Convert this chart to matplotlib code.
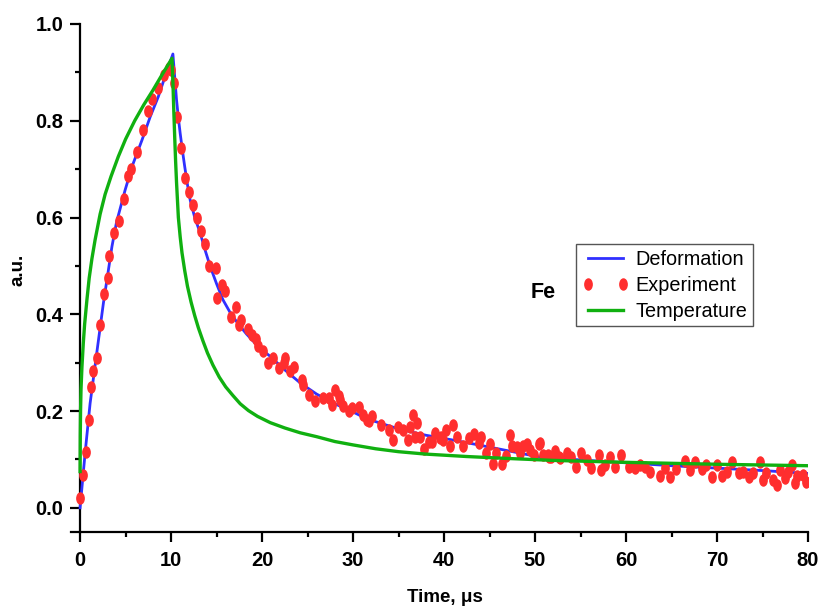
import numpy as np
import matplotlib
matplotlib.use("Agg")
import matplotlib.pyplot as plt
from matplotlib.path import Path
from matplotlib.ticker import MultipleLocator, FormatStrFormatter

AZUL = "#3030ff"
VERDE = "#10b010"
VERMELHO = "#ff2e2e"

plt.rcParams.update({
    "font.family": ["Liberation Sans", "DejaVu Sans"],
})

# Deformation (blue curve)
def_t = [0, 0.3, 0.55, 1.1, 1.83, 2.56, 3.1, 3.5, 4.0, 4.95, 5.8, 6.8, 7.7, 8.6, 9.4,
         10.2, 10.4, 10.6, 10.8, 11.0, 11.25, 11.5, 11.8, 12.1, 12.6, 13.2, 13.7,
         14.3, 15.0, 15.7, 16.6, 17.6, 18.3, 19.0, 19.9, 20.9, 22.5, 24.2, 26.0, 28.0,
         30.0, 31.5, 33.5, 35.2, 38.0, 40.7, 43.5, 46.2, 50.5, 55.0, 60.0, 65.0, 70.0,
         75.0, 80.0]
def_y = [0.0, 0.062, 0.113, 0.216, 0.32, 0.423, 0.49, 0.54, 0.59, 0.657, 0.71, 0.76,
         0.808, 0.85, 0.895, 0.938, 0.89, 0.843, 0.806, 0.774, 0.738, 0.705, 0.668,
         0.636, 0.6, 0.568, 0.535, 0.499, 0.463, 0.43, 0.4, 0.375, 0.359, 0.345,
         0.328, 0.313, 0.285, 0.258, 0.235, 0.215, 0.198, 0.184, 0.172, 0.162, 0.15,
         0.141, 0.131, 0.121, 0.105, 0.099, 0.093, 0.087, 0.082, 0.077, 0.071]

# Temperature (green curve)
temp_t = [0, 0.02, 0.05, 0.1, 0.2, 0.35, 0.5, 0.75, 1.0, 1.3, 1.65, 2.2, 2.75, 3.4,
          4.2, 5.0, 6.0, 7.0, 8.0, 9.0, 10.1, 10.2, 10.3, 10.4, 10.5, 10.6, 10.8,
          11.0, 11.2, 11.5, 11.8, 12.2, 12.6, 13.0, 13.5, 14.0, 14.6, 15.3, 16.0,
          16.8, 17.6, 18.5, 19.5, 20.9, 22.5, 24.2, 26.0, 28.0, 30.0, 32.5, 35.0,
          38.0, 42.5, 47.0, 52.0, 60.0, 70.0, 80.0]
temp_y = [0.075, 0.15, 0.2, 0.245, 0.29, 0.34, 0.38, 0.43, 0.475, 0.515, 0.554,
          0.607, 0.648, 0.685, 0.726, 0.762, 0.8, 0.833, 0.863, 0.895, 0.929, 0.88,
          0.82, 0.765, 0.715, 0.672, 0.6, 0.56, 0.527, 0.49, 0.458, 0.425, 0.397,
          0.372, 0.345, 0.32, 0.295, 0.27, 0.25, 0.232, 0.215, 0.201, 0.189, 0.176,
          0.165, 0.155, 0.147, 0.137, 0.13, 0.122, 0.116, 0.111, 0.106, 0.102, 0.098,
          0.094, 0.09, 0.087]

# Experiment (red dots)
exp_t = [0.0, 0.33, 0.62, 1.02, 1.17, 1.46, 1.83, 2.2, 2.64, 3.08, 3.2, 3.7, 4.25,
         4.84, 5.3, 5.6, 6.26, 6.9, 7.44, 7.95, 8.6, 9.2, 9.8, 10.0, 10.3, 10.6, 11.1,
         11.5, 12.0, 12.4, 12.8, 13.3, 13.7, 14.2, 14.9, 15.6, 15.9, 15.1, 17.1, 16.6,
         17.7, 17.5, 18.5, 18.9, 19.3, 19.6, 20.1, 20.7, 21.2, 21.9, 22.5, 22.4, 23.1,
         23.5, 24.4, 24.5, 25.2, 25.8, 26.7, 27.4, 27.7, 28.0, 28.4, 28.6, 28.9, 29.6,
         29.9, 30.7, 31.1, 31.5, 31.8, 32.1, 33.1, 33.9, 34.4, 34.9, 35.5, 36.0, 36.3,
         36.6, 37.0, 36.8, 37.4, 37.8, 38.3, 38.7, 39.0, 39.5, 39.7, 39.9, 40.2, 40.6,
         41.0, 41.4, 42.1, 42.7, 43.3, 43.8, 44.1, 44.6, 45.1, 45.4, 45.7, 46.4, 46.8,
         47.3, 47.5, 48.0, 48.4, 48.7, 49.1, 49.5, 49.9, 50.4, 50.9, 51.4, 51.7, 52.2,
         52.6, 50.5, 51.5, 52.7, 53.5, 54.0, 54.5, 55.1, 55.7, 56.2, 57.0, 57.3, 57.7,
         58.2, 58.8, 59.5, 60.3, 61.0, 61.5, 62.1, 62.6, 63.7, 64.3, 64.8, 65.5, 66.5,
         67.0, 67.6, 68.3, 68.8, 69.4, 70.0, 70.5, 71.1, 71.7, 72.4, 72.9, 73.5, 74.0,
         74.7, 75.0, 75.4, 76.2, 76.6, 76.9, 77.5, 77.8, 78.2, 78.6, 78.8, 79.5, 79.8]
exp_y = [0.021, 0.067, 0.116, 0.182, 0.25, 0.282, 0.31, 0.377, 0.442, 0.476, 0.52,
         0.567, 0.593, 0.638, 0.685, 0.70, 0.736, 0.78, 0.82, 0.846, 0.867, 0.895, 0.91,
         0.905, 0.879, 0.808, 0.744, 0.681, 0.653, 0.625, 0.598, 0.572, 0.545, 0.50,
         0.496, 0.46, 0.448, 0.434, 0.416, 0.395, 0.389, 0.377, 0.369, 0.358, 0.349,
         0.335, 0.325, 0.30, 0.31, 0.289, 0.31, 0.30, 0.282, 0.292, 0.264, 0.254, 0.233,
         0.221, 0.227, 0.227, 0.213, 0.244, 0.231, 0.223, 0.211, 0.20, 0.206, 0.209,
         0.192, 0.182, 0.18, 0.19, 0.171, 0.16, 0.14, 0.166, 0.16, 0.14, 0.168, 0.191,
         0.175, 0.147, 0.147, 0.121, 0.137, 0.137, 0.154, 0.144, 0.147, 0.14, 0.16,
         0.128, 0.171, 0.147, 0.128, 0.144, 0.152, 0.134, 0.146, 0.113, 0.132, 0.091,
         0.114, 0.091, 0.107, 0.151, 0.128, 0.125, 0.113, 0.127, 0.132, 0.12, 0.11,
         0.132, 0.11, 0.11, 0.106, 0.118, 0.105, 0.134, 0.106, 0.103, 0.113, 0.106,
         0.085, 0.113, 0.099, 0.082, 0.11, 0.079, 0.089, 0.106, 0.085, 0.11, 0.085,
         0.082, 0.089, 0.085, 0.073, 0.065, 0.082, 0.063, 0.08, 0.096, 0.079, 0.094,
         0.08, 0.089, 0.063, 0.089, 0.065, 0.075, 0.094, 0.072, 0.075, 0.063, 0.072,
         0.094, 0.058, 0.072, 0.058, 0.048, 0.079, 0.061, 0.073, 0.089, 0.051, 0.065,
         0.068, 0.054]

# marcador oval (um pouco mais alto que largo)
circ = Path.unit_circle()
oval = Path(circ.vertices * np.array([0.7, 1.0]), circ.codes)

fig = plt.figure(figsize=(8.21, 6.08), dpi=100)
ax = fig.add_axes([71 / 821, 76 / 608, (808 - 71) / 821, (584 - 76) / 608])

ax.plot(def_t, def_y, color=AZUL, lw=2, label="Deformation", zorder=3)
ax.plot(exp_t, exp_y, linestyle="none", marker=oval, markersize=9,
        color=VERMELHO, mec="none", label="Experiment", zorder=4)
ax.plot(temp_t, temp_y, color=VERDE, lw=2.4, label="Temperature", zorder=5)

ax.set_xlim(-1, 80)
ax.set_ylim(-0.05, 1.0)
ax.spines["top"].set_visible(False)
ax.spines["right"].set_visible(False)
ax.spines["left"].set_position(("data", 0))
for s in ["left", "bottom"]:
    ax.spines[s].set_linewidth(1.6)

ax.xaxis.set_major_locator(MultipleLocator(10))
ax.xaxis.set_minor_locator(MultipleLocator(5))
ax.yaxis.set_major_locator(MultipleLocator(0.2))
ax.yaxis.set_minor_locator(MultipleLocator(0.1))
ax.yaxis.set_major_formatter(FormatStrFormatter("%.1f"))
ax.tick_params(which="major", direction="out", length=7, width=1.6, labelsize=14.5)
ax.tick_params(axis="x", which="major", pad=7)
ax.tick_params(axis="y", which="major", pad=5)
ax.tick_params(which="minor", direction="out", length=3.8, width=1.6)
for lab in ax.get_xticklabels() + ax.get_yticklabels():
    lab.set_fontweight("bold")

fig.text(18 / 821, 1 - 270 / 608, "a.u.", rotation=90, ha="center", va="center",
         fontsize=13.5, fontweight="bold")
fig.text(445 / 821, 1 - 598 / 608, "Time, \u03bcs", ha="center", va="center",
         fontsize=13.5, fontweight="bold")

ax.text(50.9, 0.446, "Fe", ha="center", va="center", fontsize=15.5, fontweight="bold")

leg = ax.legend(loc="upper left", bbox_to_anchor=(576 / 821, 1 - 244 / 608),
                bbox_transform=fig.transFigure, borderaxespad=0, fontsize=14.3,
                fancybox=False, framealpha=1, edgecolor="#555555", numpoints=2,
                handlelength=2.4, handletextpad=0.3, labelspacing=0.36,
                borderpad=0.28)
leg.get_frame().set_linewidth(1.0)

fig.savefig("out.png", dpi=100)
